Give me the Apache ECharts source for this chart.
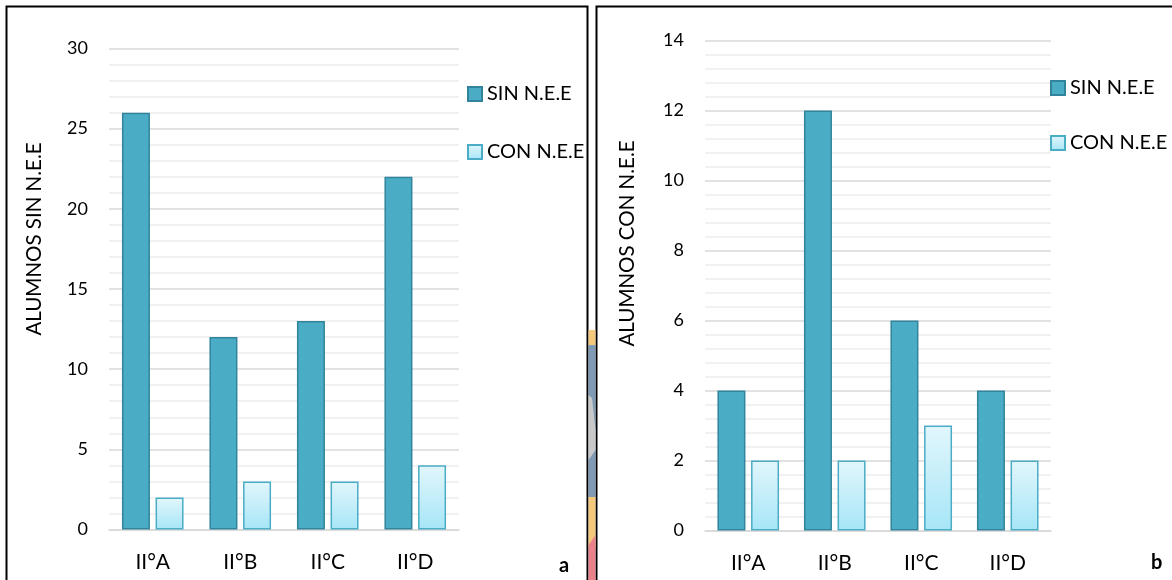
<!DOCTYPE html>
<html>
<head>
<meta charset="utf-8">
<script src="https://cdn.jsdelivr.net/npm/echarts@6/dist/echarts.min.js"></script>
<style>
  html, body { margin: 0; padding: 0; background: #ffffff; }
  #chart { width: 1172px; height: 580px; }
</style>
</head>
<body>
<div id="chart"></div>
<script>
// Student counts per class group, with and without special educational needs
const categories = ['II°A', 'II°B', 'II°C', 'II°D'];
const seriesNames = ['SIN N.E.E', 'CON N.E.E'];

// Panel a: plotted on the "ALUMNOS SIN N.E.E" scale
const panelA_sin = [26, 12, 13, 22];
const panelA_con = [2, 3, 3, 4];

// Panel b: plotted on the "ALUMNOS CON N.E.E" scale
const panelB_sin = [4, 12, 6, 4];
const panelB_con = [2, 2, 3, 2];

const axisA = { title: 'ALUMNOS SIN N.E.E', max: 30, interval: 5 };
const axisB = { title: 'ALUMNOS CON N.E.E', max: 14, interval: 2 };

const FONT = 'Lato, "Open Sans", sans-serif';
const darkStyle = { color: '#4BACC6', borderColor: '#31849B', borderWidth: 1.5 };
const lightStyle = {
  color: new echarts.graphic.LinearGradient(0, 0, 0, 1, [
    { offset: 0, color: '#E2F6FC' },
    { offset: 1, color: '#A6E6F7' }
  ]),
  borderColor: '#4BACC6',
  borderWidth: 1.5
};

function yAxis(gridIndex, cfg, gap, shiftUp) {
  return {
    type: 'value', gridIndex, min: 0, max: cfg.max, interval: cfg.interval,
    name: cfg.title, nameLocation: 'middle', nameRotate: 90, nameGap: gap,
    nameTextStyle: { fontFamily: FONT, fontSize: 20.5, color: '#000', padding: [0, 0, 0, shiftUp] },
    axisLine: { show: false }, axisTick: { show: false },
    axisLabel: { fontFamily: FONT, fontSize: 18, color: '#000', margin: 21 },
    splitLine: { show: true, lineStyle: { color: '#D9D9D9', width: 1.5 } },
    minorTick: { show: false, splitNumber: 5 },
    minorSplitLine: { show: true, lineStyle: { color: '#EDEDED', width: 1.5 } }
  };
}
function xAxis(gridIndex) {
  return {
    type: 'category', gridIndex, data: categories,
    axisLine: { show: true, lineStyle: { color: '#D9D9D9', width: 1.5 } },
    axisTick: { show: false },
    axisLabel: { fontFamily: FONT, fontSize: 21, color: '#000', margin: 22 }
  };
}
function bars(name, data, idx, style) {
  return {
    type: 'bar', name, data, xAxisIndex: idx, yAxisIndex: idx,
    barWidth: 28, barGap: '20%', itemStyle: style,
    emphasis: { disabled: true }, animation: false
  };
}
function legend(left, top, gap) {
  return {
    orient: 'vertical', left, top, padding: 0, itemWidth: 14, itemHeight: 14, itemGap: gap,
    icon: 'rect', selectedMode: false,
    textStyle: { fontFamily: FONT, fontSize: 20, color: '#000' },
    data: seriesNames.map(n => ({ name: n }))
  };
}

const chart = echarts.init(document.getElementById('chart'), null, { renderer: 'canvas' });
chart.setOption({
  backgroundColor: '#ffffff',
  animation: false,
  grid: [
    { left: 109, top: 48.5, width: 350, height: 481 },
    { left: 705, top: 40.5, width: 346, height: 490 }
  ],
  xAxis: [xAxis(0), xAxis(1)],
  yAxis: [yAxis(0, axisA, 64, 100), yAxis(1, axisB, 67, 84)],
  legend: [legend(467, 84, 38), legend(1050, 78, 35)],
  series: [
    bars(seriesNames[0], panelA_sin, 0, darkStyle),
    bars(seriesNames[1], panelA_con, 0, lightStyle),
    bars(seriesNames[0], panelB_sin, 1, darkStyle),
    bars(seriesNames[1], panelB_con, 1, lightStyle)
  ],
  graphic: [
    // panel frames
    { type: 'rect', shape: { x: 6.5, y: 6.5, width: 581, height: 600 },
      style: { fill: null, stroke: '#000', lineWidth: 2 }, silent: true },
    { type: 'rect', shape: { x: 596.5, y: 6.5, width: 600, height: 600 },
      style: { fill: null, stroke: '#000', lineWidth: 2 }, silent: true },
    // coloured strip between the two panels
    { type: 'rect', shape: { x: 588.5, y: 330, width: 7, height: 16 }, style: { fill: '#F5C97C' }, silent: true },
    { type: 'rect', shape: { x: 588.5, y: 345, width: 7, height: 153 }, style: { fill: '#7F9BB3' }, silent: true },
    { type: 'polygon', shape: { points: [[588.5, 395], [592, 398], [595.5, 430], [595.5, 450], [588.5, 460]] },
      style: { fill: '#C9C9C9' }, silent: true },
    { type: 'rect', shape: { x: 588.5, y: 497, width: 7, height: 50 }, style: { fill: '#F5C97C' }, silent: true },
    { type: 'polygon', shape: { points: [[588.5, 545], [595.5, 535], [595.5, 580], [588.5, 580]] },
      style: { fill: '#EA818B' }, silent: true },
    // panel letters
    { type: 'text', left: 559, top: 556, style: { text: 'a', fontFamily: FONT, fontSize: 20, fontWeight: 'bold', fill: '#000' } },
    { type: 'text', left: 1151, top: 553, style: { text: 'b', fontFamily: FONT, fontSize: 20, fontWeight: 'bold', fill: '#000' } }
  ]
});
</script>
</body>
</html>
